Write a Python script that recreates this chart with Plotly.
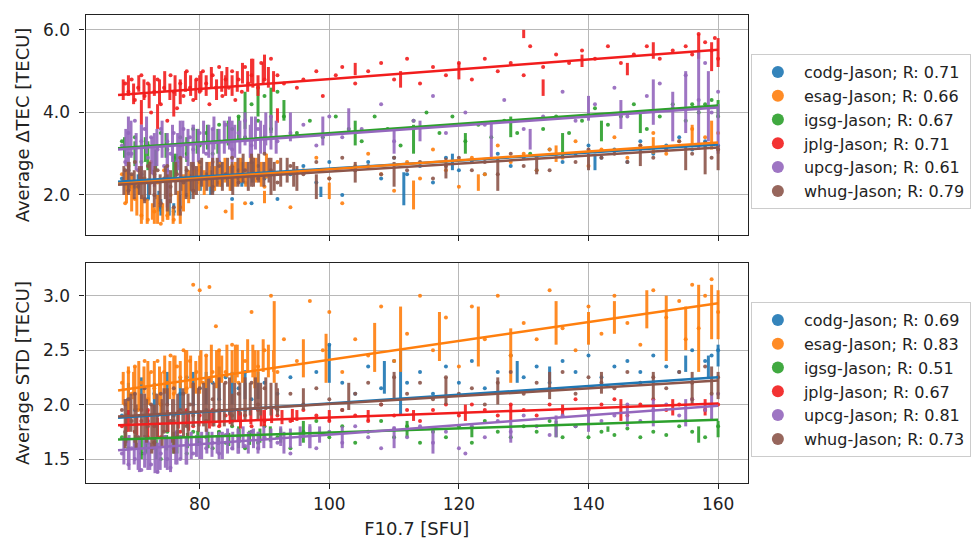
import plotly.graph_objects as go

# ---------------- data ----------------
names = ["codg", "esag", "igsg", "jplg", "upcg", "whug"]
colors = ["#1f77b4", "#ff7f0e", "#2ca02c", "#f21d1d", "#9467bd", "#8c564b"]
r_tec = ["0.71", "0.66", "0.67", "0.71", "0.61", "0.79"]
r_std = ["0.69", "0.83", "0.51", "0.67", "0.81", "0.73"]

# fit lines: value at x = 67.4 and at x = 160
fit_x = [67.4, 160]
fit_tec = {"codg": [2.32, 3.22], "esag": [2.27, 3.27], "igsg": [3.13, 4.17],
           "jplg": [4.42, 5.52], "upcg": [3.10, 4.12], "whug": [2.25, 3.15]}
fit_std = {"codg": [1.88, 2.25], "esag": [2.13, 2.93], "igsg": [1.68, 1.86],
           "jplg": [1.81, 2.01], "upcg": [1.58, 1.99], "whug": [1.89, 2.22]}

# ---- top panel: Average dTEC points (x, y) ----
codg_tec_x = [68, 69, 70, 71, 72, 73, 74, 75, 76, 77, 78, 79, 80, 81, 82, 83, 84, 85, 86, 87, 88, 89, 90, 92, 94, 96, 98, 100, 102, 104, 106, 108, 110, 112, 114, 116, 118, 120, 122, 124, 126, 128, 130, 132, 134, 136, 138, 140, 142, 144, 146, 148, 150, 152, 154, 156, 158, 160]
codg_tec_y = [2.4, 2.6, 2.2, 2.5, 1.9, 2.3, 1.7, 2.6, 1.6, 2.4, 2.0, 2.7, 2.3, 2.5, 2.1, 2.8, 2.4, 1.9, 2.6, 2.3, 1.8, 2.7, 2.4, 1.9, 2.5, 2.7, 2.3, 2.8, 2.0, 2.6, 2.8, 2.4, 2.9, 2.5, 2.7, 2.3, 2.9, 2.6, 2.8, 2.5, 3.0, 2.7, 2.9, 2.6, 3.1, 2.8, 3.0, 3.2, 2.9, 3.1, 2.8, 3.3, 3.0, 3.2, 3.4, 3.1, 3.3, 3.2]
esag_tec_x = [68, 68.5, 69, 69.5, 70, 70.5, 71, 71.5, 72, 72.5, 73, 73.5, 74, 74.5, 75, 75.5, 76, 76.5, 77, 77.5, 78, 79, 80, 81, 82, 83, 84, 85, 86, 87, 88, 89, 90, 92, 94, 96, 98, 100, 102, 104, 106, 108, 110, 112, 114, 116, 118, 120, 122, 124, 126, 128, 130, 132, 134, 136, 138, 140, 142, 144, 146, 148, 150, 152, 154, 156, 158, 160]
esag_tec_y = [2.5, 1.8, 2.7, 2.2, 1.9, 2.6, 1.5, 2.4, 1.4, 2.8, 1.6, 2.3, 1.3, 2.6, 1.5, 2.0, 1.4, 2.7, 1.7, 2.4, 2.9, 2.1, 2.6, 1.7, 2.8, 2.3, 1.6, 2.7, 2.4, 1.8, 2.9, 2.5, 2.2, 2.8, 1.7, 2.6, 2.9, 2.4, 1.8, 2.7, 3.0, 2.5, 2.1, 2.8, 2.4, 3.1, 2.6, 2.2, 2.9, 2.5, 3.2, 2.8, 3.0, 2.6, 3.1, 2.9, 3.3, 2.7, 3.1, 3.4, 2.9, 3.2, 3.5, 3.0, 3.3, 3.6, 3.4, 3.5]
igsg_tec_x = [68, 69, 70, 71, 72, 73, 74, 75, 76, 77, 78, 79, 80, 81, 82, 83, 84, 85, 86, 87, 88, 89, 90, 91, 92, 93, 95, 97, 99, 101, 103, 105, 107, 109, 111, 113, 115, 117, 119, 121, 123, 125, 127, 129, 131, 133, 135, 137, 139, 141, 143, 145, 147, 149, 151, 153, 155, 156, 157, 158, 159, 160]
igsg_tec_y = [3.3, 3.0, 3.4, 2.8, 3.2, 2.6, 3.5, 3.1, 2.9, 3.4, 3.0, 3.6, 3.2, 3.5, 3.0, 3.7, 3.3, 3.6, 3.9, 3.4, 4.2, 3.8, 4.4, 3.6, 4.5, 3.9, 3.5, 3.8, 3.4, 3.9, 3.6, 3.3, 3.9, 3.6, 3.2, 3.8, 4.0, 3.5, 3.9, 3.3, 3.7, 3.4, 3.8, 3.5, 3.0, 3.6, 3.9, 3.5, 3.8, 4.1, 3.7, 3.9, 4.2, 3.6, 3.9, 4.2, 3.8, 4.2, 4.0, 4.2, 4.3, 3.9]
jplg_tec_x = [68.5, 69, 69.5, 70, 70.5, 71, 71.5, 72, 72.5, 73, 73.5, 74, 74.5, 75, 75.5, 76, 76.5, 77, 77.5, 78, 78.5, 79, 79.5, 80, 80.5, 81, 81.5, 82, 82.5, 83, 83.5, 84, 84.5, 85, 85.5, 86, 86.5, 87, 87.5, 88, 89, 89.5, 90, 91, 92, 93, 95, 96, 98, 99, 101, 102, 104, 106, 108, 110, 112, 114, 116, 118, 120, 122, 124, 126, 128, 130, 131, 133, 135, 137, 139, 141, 143, 145, 147, 149, 151, 153, 155, 156, 157, 158, 159, 159.5, 160]
jplg_tec_y = [4.7, 4.5, 4.8, 4.3, 4.6, 4.9, 4.4, 4.7, 4.0, 4.5, 4.8, 4.2, 4.6, 3.8, 4.9, 4.5, 4.1, 4.7, 4.4, 5.0, 4.6, 4.3, 4.8, 4.5, 5.0, 4.7, 4.2, 4.9, 4.6, 5.1, 4.4, 4.8, 4.6, 5.0, 4.3, 4.8, 4.5, 5.1, 4.7, 4.9, 4.6, 5.2, 4.8, 5.3, 4.9, 4.7, 4.6, 4.8, 5.0, 4.4, 4.9, 5.1, 4.7, 5.0, 5.2, 4.8, 5.3, 4.7, 5.1, 4.9, 5.2, 4.8, 5.3, 5.0, 5.2, 4.9, 5.6, 5.1, 5.4, 5.2, 5.5, 5.3, 5.6, 5.2, 5.4, 5.6, 5.3, 5.5, 5.6, 5.4, 5.9, 5.7, 5.5, 5.8, 5.3]
upcg_tec_x = [68, 68.5, 69, 69.5, 70, 70.5, 71, 71.5, 72, 72.5, 73, 73.5, 74, 74.5, 75, 75.5, 76, 76.5, 77, 77.5, 78, 78.5, 79, 80, 81, 82, 83, 84, 85, 86, 87, 88, 89, 90, 91, 92, 94, 96, 98, 100, 102, 105, 108, 110, 113, 116, 118, 121, 124, 127, 130, 133, 136, 138, 141, 144, 146, 149, 151, 153, 155, 157, 158, 159, 160]
upcg_tec_y = [3.2, 2.8, 3.5, 3.0, 3.8, 2.6, 3.3, 3.6, 2.9, 3.4, 2.5, 3.1, 3.6, 2.7, 3.3, 3.0, 3.5, 2.8, 3.2, 3.6, 2.9, 3.4, 3.1, 3.5, 3.0, 3.6, 3.3, 3.7, 3.1, 3.5, 3.8, 3.2, 3.6, 3.4, 3.9, 3.3, 3.5, 3.7, 3.2, 3.9, 3.4, 3.6, 4.2, 3.3, 3.8, 4.4, 3.5, 4.0, 3.7, 4.3, 3.6, 3.9, 4.5, 3.8, 4.2, 4.6, 3.9, 4.4, 4.7, 4.1, 4.9, 4.3, 5.2, 4.0, 4.5]
whug_tec_x = [68, 68.5, 69, 69.5, 70, 70.5, 71, 71.5, 72, 72.5, 73, 73.5, 74, 74.5, 75, 75.5, 76, 76.5, 77, 77.5, 78, 79, 80, 81, 82, 83, 84, 85, 86, 87, 88, 89, 90, 91, 92, 94, 96, 98, 100, 102, 104, 106, 108, 110, 112, 114, 116, 118, 120, 122, 124, 126, 128, 130, 132, 134, 136, 138, 140, 142, 144, 146, 148, 150, 152, 154, 156, 158, 159, 160]
whug_tec_y = [2.3, 2.6, 2.1, 2.5, 2.8, 2.2, 2.4, 1.9, 2.7, 2.3, 2.0, 2.6, 1.8, 2.4, 2.7, 2.2, 1.7, 2.5, 2.9, 2.3, 2.6, 2.1, 2.8, 2.4, 2.2, 2.7, 2.5, 2.9, 2.3, 2.6, 2.8, 2.4, 3.0, 2.6, 2.3, 2.7, 2.5, 2.8, 2.4, 2.9, 2.6, 2.7, 2.5, 2.9, 2.6, 2.8, 2.4, 2.7, 2.9, 2.6, 2.8, 2.5, 3.0, 2.7, 2.9, 2.6, 3.0, 2.8, 3.1, 2.9, 3.0, 2.8, 3.2, 2.9, 3.1, 3.3, 3.0, 3.2, 2.9, 3.1]

# ---- top panel: vertical streaks (x, low, high) ----
codg_tec_sx = [74, 76, 98.7, 111.5, 119, 141, 68.9, 70.5, 72.1, 73.7, 75.3, 76.9, 78.5, 80.1, 81.7, 83.3, 84.9, 86.5, 88.1]
codg_tec_lo = [1.5, 1.5, 1.95, 1.75, 2.6, 2.6, 2.1, 2.0, 1.9, 1.6, 1.5, 1.6, 1.9, 2.1, 2.0, 2.2, 2.1, 2.2, 2.3]
codg_tec_hi = [1.9, 1.8, 2.2, 2.55, 3.0, 3.0, 2.6, 2.5, 2.4, 2.1, 1.9, 2.0, 2.5, 2.7, 2.6, 2.8, 2.7, 2.8, 2.8]
esag_tec_sx = [71, 73, 75, 77, 85, 90, 100, 113, 123, 135, 150, 156, 159,
               68.7, 69.5, 70.3, 71.1, 71.9, 72.7, 73.5, 74.3, 75.1, 75.9, 76.7, 77.5, 78.3, 79.1, 79.9, 80.7, 81.5, 82.3, 83.1, 83.9, 84.7, 85.5, 86.3, 87.1, 87.9, 88.7, 89.5, 90.3]
esag_tec_lo = [1.3, 1.3, 1.4, 1.3, 1.4, 1.8, 1.9, 1.65, 2.1, 2.8, 3.0, 3.2, 3.1,
               1.8, 1.6, 1.5, 1.4, 1.3, 1.4, 1.3, 1.35, 1.4, 1.3, 1.5, 1.6, 1.8, 2.0, 2.1, 2.0, 2.2, 2.1, 2.2, 2.3, 2.1, 2.2, 2.3, 2.2, 2.4, 2.3, 2.2, 2.4]
esag_tec_hi = [1.9, 1.7, 1.9, 1.6, 1.8, 2.1, 2.3, 2.35, 2.5, 3.2, 3.4, 3.7, 3.8,
               2.6, 2.5, 2.3, 2.0, 1.9, 1.8, 2.0, 1.8, 1.9, 1.7, 2.1, 2.5, 2.6, 2.7, 2.8, 2.6, 2.8, 2.7, 2.8, 2.9, 2.7, 2.8, 2.9, 2.8, 3.0, 2.9, 2.8, 3.0]
igsg_tec_sx = [72, 76, 87, 89, 91, 93, 104, 113, 121, 128, 136, 142, 148, 160,
               68.4, 70, 71.6, 73.2, 74.8, 76.4, 78, 79.6, 81.2, 82.8, 84.4, 86]
igsg_tec_lo = [2.6, 2.4, 3.6, 3.9, 3.5, 3.8, 3.2, 3.0, 3.0, 3.4, 2.9, 3.3, 3.5, 3.9,
               2.9, 2.7, 2.8, 2.6, 2.9, 2.5, 2.8, 3.0, 3.1, 3.0, 3.2, 3.3]
igsg_tec_hi = [3.3, 3.0, 4.5, 4.7, 4.6, 4.3, 3.8, 3.7, 3.5, 3.9, 3.5, 3.8, 4.0, 4.3,
               3.4, 3.3, 3.4, 3.1, 3.5, 3.0, 3.4, 3.6, 3.7, 3.6, 3.8, 3.9]
jplg_tec_sx = [71, 73.5, 76, 80, 84, 88, 90, 92, 104, 111, 120, 130, 133, 139, 146, 150, 157, 159, 160,
               68.2, 69.0, 69.8, 70.6, 71.4, 72.2, 73.0, 73.8, 74.6, 75.4, 76.2, 77.0, 77.8, 78.6, 79.4, 80.2, 81.0, 81.8, 82.6, 83.4, 84.2, 85.0, 85.8, 86.6, 87.4, 88.2, 89.0, 89.8, 90.6, 91.4]
jplg_tec_lo = [3.7, 3.6, 3.9, 4.5, 4.4, 4.7, 4.8, 3.75, 4.9, 4.6, 4.8, 5.8, 4.4, 5.1, 4.9, 5.3, 5.3, 5.0, 5.1,
               4.3, 4.4, 4.2, 4.5, 4.3, 4.1, 4.4, 4.2, 4.5, 4.3, 4.4, 4.2, 4.5, 4.4, 4.3, 4.5, 4.4, 4.6, 4.3, 4.5, 4.6, 4.4, 4.5, 4.7, 4.5, 4.6, 4.4, 4.7, 4.6, 4.5]
jplg_tec_hi = [4.3, 4.2, 4.5, 4.9, 4.9, 5.3, 5.4, 4.1, 5.2, 5.0, 5.2, 6.0, 4.8, 5.4, 5.2, 5.7, 5.9, 5.7, 5.8,
               4.8, 4.9, 4.7, 4.9, 4.8, 4.7, 4.9, 4.8, 5.0, 4.7, 4.9, 4.8, 5.0, 4.9, 4.8, 5.0, 4.9, 5.1, 4.8, 5.0, 5.1, 4.9, 5.0, 5.2, 5.0, 5.3, 4.9, 5.2, 5.1, 5.0]
upcg_tec_sx = [69, 71, 73, 75, 77, 79, 82, 85, 88, 90, 94, 99, 103, 110, 114, 125, 131, 140, 145, 150, 153, 155, 157, 158.5, 160,
               68.6, 69.4, 70.2, 71.0, 71.8, 72.6, 73.4, 74.2, 75.0, 75.8, 76.6, 77.4, 78.2, 79.0, 79.8, 80.6, 81.4, 82.2, 83.0, 83.8, 84.6, 85.4, 86.2, 87.0, 87.8, 88.6, 89.4, 90.2, 91.0, 91.8]
upcg_tec_lo = [2.5, 2.3, 2.2, 1.7, 2.4, 2.6, 2.7, 2.8, 2.9, 3.0, 3.3, 3.2, 3.5, 3.0, 3.3, 2.9, 3.1, 3.8, 3.6, 3.7, 3.3, 3.5, 3.1, 3.3, 3.0,
               2.7, 2.9, 2.6, 2.8, 3.0, 2.5, 2.7, 2.9, 2.4, 2.8, 2.6, 2.9, 2.7, 3.0, 2.8, 3.0, 2.9, 3.1, 2.8, 3.0, 3.1, 2.9, 3.0, 3.2, 2.9, 3.1, 3.0, 3.2, 3.1, 3.0]
upcg_tec_hi = [3.9, 3.7, 3.5, 3.2, 3.8, 3.7, 3.6, 3.8, 3.9, 3.7, 4.0, 3.9, 4.1, 3.6, 3.8, 3.8, 3.6, 4.4, 4.3, 4.8, 4.5, 5.0, 5.5, 5.0, 4.2,
               3.6, 3.8, 3.5, 3.7, 3.9, 3.4, 3.6, 3.8, 3.5, 3.7, 3.5, 3.8, 3.6, 3.7, 3.6, 3.8, 3.7, 3.9, 3.6, 3.8, 3.9, 3.7, 3.8, 4.0, 3.7, 3.9, 3.8, 4.0, 3.9, 3.8]
whug_tec_sx = [69, 71, 73, 75, 77, 79, 82, 85, 88, 91, 95, 98, 104, 110, 118, 126, 132, 140, 148, 155, 158, 160,
               68.3, 69.1, 69.9, 70.7, 71.5, 72.3, 73.1, 73.9, 74.7, 75.5, 76.3, 77.1, 77.9, 78.7, 79.5, 80.3, 81.1, 81.9, 82.7, 83.5, 84.3, 85.1, 85.9, 86.7, 87.5, 88.3, 89.1, 89.9, 90.7, 91.5, 92.5, 93.5, 94.5]
whug_tec_lo = [2.0, 1.9, 1.7, 1.6, 1.5, 1.9, 2.0, 2.1, 2.2, 2.0, 2.1, 1.9, 2.3, 2.2, 2.4, 2.1, 2.5, 2.6, 2.7, 2.6, 2.5, 2.6,
               2.0, 2.1, 1.9, 2.0, 1.8, 2.0, 1.9, 1.7, 1.9, 1.8, 2.0, 2.1, 1.9, 2.1, 2.0, 2.2, 2.1, 2.0, 2.2, 2.1, 2.2, 2.0, 2.2, 2.3, 2.1, 2.2, 2.3, 2.2, 2.3, 2.1, 2.2, 2.3, 2.2]
whug_tec_hi = [2.8, 2.7, 2.6, 2.5, 2.4, 2.8, 2.9, 2.8, 3.0, 2.9, 2.7, 2.5, 2.8, 2.8, 2.9, 2.9, 2.9, 3.0, 3.1, 3.2, 3.3, 3.2,
               2.7, 2.8, 2.6, 2.7, 2.6, 2.8, 2.7, 2.5, 2.7, 2.6, 2.8, 2.9, 2.7, 2.8, 2.7, 2.9, 2.8, 2.7, 2.9, 2.8, 2.9, 2.7, 2.9, 3.0, 2.8, 2.9, 3.0, 2.8, 2.9, 2.8, 2.9, 2.9, 2.8]

# ---- bottom panel: Average STD points ----
codg_std_x = [68, 69, 70, 71, 72, 73, 74, 75, 76, 77, 78, 79, 80, 81, 82, 83, 84, 85, 86, 87, 88, 90, 92, 94, 96, 98, 100, 102, 104, 106, 108, 110, 112, 114, 116, 118, 120, 122, 124, 126, 128, 130, 132, 134, 136, 138, 140, 142, 144, 146, 148, 150, 152, 154, 156, 158, 159, 160]
codg_std_y = [1.9, 2.05, 1.95, 2.15, 1.85, 2.1, 2.0, 2.2, 1.9, 2.1, 2.25, 2.0, 2.15, 1.95, 2.2, 2.05, 2.25, 1.95, 2.15, 2.3, 2.05, 2.2, 2.1, 2.25, 2.0, 2.3, 2.55, 2.2, 2.1, 2.35, 2.15, 2.4, 2.2, 2.3, 2.1, 2.35, 2.2, 2.4, 2.15, 2.3, 2.45, 2.25, 2.35, 2.2, 2.4, 2.3, 2.45, 2.25, 2.35, 2.4, 2.3, 2.45, 2.35, 2.3, 2.5, 2.4, 2.45, 2.5]
esag_std_x = [68, 68.5, 69, 69.5, 70, 70.5, 71, 71.5, 72, 72.5, 73, 73.5, 74, 74.5, 75, 75.5, 76, 76.5, 77, 77.5, 78, 78.5, 79, 79.5, 80, 80.5, 81, 81.5, 82, 82.5, 83, 84, 85, 86, 87, 88, 89, 90, 91, 92, 93, 95, 97, 99, 100, 102, 104, 106, 108, 110, 112, 114, 116, 118, 120, 122, 124, 126, 128, 130, 132, 134, 136, 138, 140, 142, 144, 146, 148, 150, 152, 154, 155, 156, 157, 158, 159, 160]
esag_std_y = [2.2, 2.0, 2.3, 2.1, 2.35, 1.95, 2.2, 2.4, 2.05, 2.3, 2.15, 2.4, 2.0, 2.3, 2.2, 2.45, 2.1, 2.35, 2.25, 2.5, 2.15, 2.4, 3.1, 2.3, 3.05, 2.2, 2.45, 3.08, 2.3, 2.72, 2.5, 2.3, 2.55, 2.2, 2.4, 2.85, 2.35, 2.5, 3.0, 2.3, 2.6, 2.4, 2.95, 2.5, 2.85, 2.3, 2.6, 2.45, 2.9, 2.4, 2.65, 3.0, 2.5, 2.8, 2.35, 2.9, 2.6, 3.0, 2.45, 2.75, 2.6, 3.05, 2.7, 2.5, 2.9, 2.65, 3.0, 2.75, 2.55, 3.05, 2.8, 2.95, 2.6, 3.1, 2.7, 3.0, 3.15, 2.85]
igsg_std_x = [68, 69, 70, 71, 72, 73, 74, 75, 76, 77, 78, 79, 80, 81, 82, 83, 84, 85, 86, 87, 88, 89, 90, 92, 94, 96, 98, 100, 102, 104, 106, 108, 110, 112, 114, 116, 118, 120, 122, 124, 126, 128, 130, 132, 134, 136, 138, 140, 142, 144, 146, 148, 150, 152, 154, 156, 158, 160]
igsg_std_y = [1.7, 1.6, 1.75, 1.55, 1.7, 1.65, 1.5, 1.75, 1.6, 1.7, 1.55, 1.75, 1.65, 1.7, 1.6, 1.75, 1.65, 1.8, 1.7, 1.6, 1.75, 1.65, 1.8, 1.7, 1.6, 1.75, 1.85, 1.7, 1.8, 1.65, 1.75, 1.85, 1.7, 1.8, 1.65, 1.75, 1.7, 1.8, 1.65, 1.85, 1.75, 1.7, 1.8, 1.75, 1.85, 1.7, 1.8, 1.7, 1.75, 1.72, 1.78, 1.7, 1.75, 1.72, 1.8, 1.75, 1.7, 1.8]
jplg_std_x = [68, 69, 70, 71, 72, 73, 74, 75, 76, 77, 78, 79, 80, 81, 82, 83, 84, 85, 86, 87, 88, 89, 90, 92, 94, 96, 98, 100, 102, 104, 106, 108, 110, 112, 114, 116, 118, 120, 122, 124, 126, 128, 130, 132, 134, 136, 138, 140, 142, 144, 146, 148, 150, 152, 154, 156, 158, 160]
jplg_std_y = [1.8, 1.9, 1.75, 1.85, 1.95, 1.8, 1.7, 1.9, 1.85, 1.75, 1.95, 1.8, 1.9, 1.85, 1.95, 1.8, 1.9, 1.85, 1.95, 1.9, 1.8, 1.95, 1.85, 1.9, 1.85, 1.95, 1.9, 1.85, 1.95, 1.9, 1.85, 2.0, 1.9, 1.95, 1.85, 1.95, 2.0, 1.9, 2.0, 1.95, 1.9, 2.0, 1.95, 1.9, 2.0, 1.95, 2.05, 1.95, 2.0, 2.05, 1.9, 2.0, 2.05, 1.95, 2.0, 2.05, 1.95, 2.0]
upcg_std_x = [68, 68.5, 69, 69.5, 70, 70.5, 71, 71.5, 72, 72.5, 73, 73.5, 74, 74.5, 75, 75.5, 76, 76.5, 77, 78, 79, 80, 81, 82, 83, 84, 85, 86, 87, 88, 89, 90, 92, 94, 96, 98, 100, 102, 104, 106, 108, 110, 112, 114, 116, 118, 120, 121, 122, 124, 126, 128, 130, 132, 134, 136, 138, 140, 142, 144, 146, 148, 150, 152, 154, 156, 158, 160]
upcg_std_y = [1.55, 1.65, 1.45, 1.6, 1.5, 1.7, 1.4, 1.55, 1.65, 1.45, 1.6, 1.38, 1.55, 1.7, 1.5, 1.42, 1.6, 1.75, 1.5, 1.65, 1.55, 1.7, 1.6, 1.65, 1.55, 1.72, 1.6, 1.68, 1.62, 1.75, 1.6, 1.7, 1.65, 1.55, 1.72, 1.6, 1.75, 1.65, 1.8, 1.7, 1.6, 1.78, 1.7, 1.8, 1.65, 1.75, 1.6, 1.55, 1.8, 1.7, 1.85, 1.75, 1.9, 1.8, 1.72, 1.9, 1.8, 1.95, 1.85, 1.9, 2.0, 1.85, 1.95, 2.0, 1.9, 2.05, 1.95, 2.1]
whug_std_x = [68, 68.5, 69, 69.5, 70, 70.5, 71, 71.5, 72, 72.5, 73, 73.5, 74, 74.5, 75, 75.5, 76, 76.5, 77, 77.5, 78, 78.5, 79, 80, 81, 82, 83, 84, 85, 86, 87, 88, 89, 90, 92, 94, 96, 98, 100, 102, 104, 106, 108, 110, 112, 114, 116, 118, 120, 122, 124, 126, 128, 130, 132, 134, 136, 138, 140, 142, 144, 146, 148, 150, 152, 154, 156, 158, 159, 160]
whug_std_y = [1.95, 1.75, 2.05, 1.85, 2.1, 1.7, 1.95, 2.15, 1.8, 2.0, 1.65, 1.9, 2.1, 1.75, 2.0, 1.85, 2.15, 1.7, 1.95, 2.1, 1.8, 2.0, 1.9, 2.15, 1.85, 2.05, 1.95, 2.2, 1.9, 2.1, 1.95, 2.2, 2.0, 2.15, 1.95, 2.1, 2.0, 2.15, 2.05, 1.95, 2.1, 2.2, 2.0, 2.25, 2.1, 2.2, 2.05, 2.25, 2.1, 2.15, 2.0, 2.2, 2.3, 2.1, 2.2, 2.15, 2.3, 2.1, 2.25, 2.2, 2.15, 2.3, 2.2, 2.25, 2.15, 2.3, 2.2, 2.35, 2.1, 2.25]

# ---- bottom panel: vertical streaks ----
codg_std_sx = [100, 108.5, 111, 129, 134, 155, 158.5, 160, 69, 71, 73, 75, 77, 79, 81, 83, 85, 87, 89]
codg_std_lo = [2.2, 2.1, 1.9, 2.2, 2.2, 2.3, 2.25, 2.35, 1.9, 1.95, 1.9, 2.0, 1.95, 2.0, 2.0, 2.05, 2.0, 2.05, 2.05]
codg_std_hi = [2.55, 2.4, 2.5, 2.4, 2.35, 2.45, 2.45, 2.55, 2.2, 2.25, 2.2, 2.3, 2.25, 2.3, 2.3, 2.35, 2.3, 2.3, 2.3]
esag_std_sx = [70, 72, 74, 76, 78, 80, 83, 85.5, 88.5, 91.5, 96, 99.5, 107, 111, 117, 123, 128, 135, 140, 144, 149, 152, 155, 157, 159, 160,
               68.2, 69.0, 69.8, 70.6, 71.4, 72.2, 73.0, 73.8, 74.6, 75.4, 76.2, 77.0, 77.8, 78.6, 79.4, 80.2, 81.0, 81.8, 82.6, 83.4, 84.2, 85.0, 85.8, 86.6, 87.4, 88.2, 89.0, 89.8, 90.6, 91.4]
esag_std_lo = [1.95, 2.0, 1.9, 2.05, 2.1, 2.1, 2.2, 2.2, 2.15, 2.2, 2.25, 2.2, 2.3, 2.3, 2.4, 2.35, 2.2, 2.55, 2.55, 2.65, 2.7, 2.4, 2.5, 2.3, 2.6, 2.6,
               2.0, 1.95, 2.05, 1.95, 2.1, 2.0, 2.05, 2.0, 2.1, 2.05, 2.1, 2.15, 2.1, 2.15, 2.1, 2.2, 2.15, 2.2, 2.15, 2.2, 2.25, 2.2, 2.25, 2.2, 2.3, 2.25, 2.2, 2.3, 2.25, 2.3]
esag_std_hi = [2.35, 2.4, 2.3, 2.45, 2.5, 2.45, 2.5, 2.55, 2.5, 2.95, 2.6, 2.65, 2.75, 2.9, 2.85, 2.9, 2.7, 2.95, 2.85, 2.95, 3.05, 3.0, 2.9, 3.1, 3.1, 3.05,
               2.3, 2.35, 2.3, 2.4, 2.35, 2.3, 2.4, 2.35, 2.45, 2.4, 2.45, 2.4, 2.5, 2.45, 2.4, 2.5, 2.45, 2.55, 2.5, 2.45, 2.55, 2.5, 2.55, 2.5, 2.6, 2.55, 2.5, 2.6, 2.55, 2.5]
igsg_std_sx = [71, 76, 86, 96, 112, 122, 135, 143, 157, 160,
               68.5, 70.1, 71.7, 73.3, 74.9, 76.5, 78.1, 79.7, 81.3, 82.9, 84.5, 86.1, 87.7, 89.3, 90.9, 92.5]
igsg_std_lo = [1.5, 1.55, 1.6, 1.65, 1.7, 1.7, 1.7, 1.75, 1.65, 1.7,
               1.62, 1.6, 1.55, 1.5, 1.58, 1.55, 1.6, 1.62, 1.6, 1.63, 1.62, 1.65, 1.63, 1.65, 1.66, 1.65]
igsg_std_hi = [1.7, 1.75, 1.8, 1.85, 1.85, 1.8, 1.85, 1.8, 1.8, 1.85,
               1.75, 1.72, 1.7, 1.68, 1.72, 1.7, 1.74, 1.76, 1.75, 1.76, 1.74, 1.78, 1.76, 1.78, 1.8, 1.78]
jplg_std_sx = [69, 72, 75, 78, 82, 86, 90, 95, 100, 106, 113, 121, 128, 136, 145, 153, 158,
               68.7, 70.3, 71.9, 73.5, 75.1, 76.7, 78.3, 79.9, 81.5, 83.1, 84.7, 86.3, 87.9, 89.5, 91.1, 92.7, 94.3]
jplg_std_lo = [1.75, 1.7, 1.75, 1.8, 1.8, 1.85, 1.8, 1.85, 1.85, 1.85, 1.85, 1.85, 1.85, 1.9, 1.85, 1.9, 1.9,
               1.75, 1.72, 1.78, 1.7, 1.75, 1.78, 1.76, 1.8, 1.78, 1.8, 1.82, 1.78, 1.82, 1.8, 1.83, 1.82, 1.84]
jplg_std_hi = [1.95, 1.95, 1.95, 1.95, 1.95, 1.95, 1.95, 1.95, 1.95, 1.95, 1.95, 2.0, 2.0, 2.0, 2.05, 2.05, 2.05,
               1.92, 1.9, 1.95, 1.88, 1.92, 1.95, 1.93, 1.95, 1.94, 1.96, 1.95, 1.93, 1.96, 1.95, 1.97, 1.95, 1.96]
upcg_std_sx = [69, 70.5, 72, 73.5, 75, 76.5, 78, 80, 83, 86, 89, 93, 97, 102, 110, 116, 128, 135, 140, 146, 150, 155, 159,
               68.3, 69.1, 69.9, 70.7, 71.5, 72.3, 73.1, 73.9, 74.7, 75.5, 76.3, 77.1, 77.9, 78.7, 79.5, 80.3, 81.1, 81.9, 82.7, 83.5, 84.3, 85.1, 85.9, 86.7, 87.5, 88.3, 89.1, 89.9, 91, 92.5, 94, 95.5, 97, 98.5]
upcg_std_lo = [1.45, 1.4, 1.4, 1.37, 1.4, 1.45, 1.45, 1.5, 1.5, 1.55, 1.55, 1.55, 1.6, 1.6, 1.6, 1.55, 1.65, 1.7, 1.75, 1.8, 1.8, 1.8, 1.85,
               1.45, 1.4, 1.45, 1.38, 1.42, 1.4, 1.37, 1.4, 1.42, 1.38, 1.45, 1.5, 1.45, 1.5, 1.52, 1.5, 1.55, 1.52, 1.55, 1.5, 1.55, 1.58, 1.55, 1.6, 1.55, 1.6, 1.58, 1.6, 1.6, 1.62, 1.6, 1.62, 1.6, 1.65]
upcg_std_hi = [1.7, 1.65, 1.7, 1.65, 1.7, 1.75, 1.7, 1.7, 1.75, 1.75, 1.75, 1.75, 1.8, 1.8, 1.8, 1.8, 1.85, 1.9, 1.95, 2.0, 2.05, 2.05, 2.1,
               1.7, 1.72, 1.68, 1.7, 1.72, 1.65, 1.7, 1.68, 1.72, 1.7, 1.75, 1.72, 1.7, 1.75, 1.72, 1.75, 1.78, 1.75, 1.72, 1.75, 1.78, 1.75, 1.78, 1.8, 1.75, 1.78, 1.75, 1.8, 1.78, 1.8, 1.78, 1.8, 1.82, 1.8]
whug_std_sx = [68.5, 70, 71.5, 73, 74.5, 76, 77.5, 79, 81, 83, 85, 87, 89, 92, 96, 103, 110, 118, 126, 134, 142, 150, 156, 159, 160,
               68.6, 69.4, 70.2, 71.0, 71.8, 72.6, 73.4, 74.2, 75.0, 75.8, 76.6, 77.4, 78.2, 79.0, 79.8, 80.6, 81.4, 82.2, 83.0, 83.8, 84.6, 85.4, 86.2, 87.0, 87.8, 88.6, 89.4, 90.2, 91.0, 91.8]
whug_std_lo = [1.6, 1.65, 1.7, 1.6, 1.75, 1.55, 1.7, 1.8, 1.75, 1.85, 1.8, 1.9, 1.85, 1.9, 1.95, 1.95, 2.05, 2.0, 2.0, 2.05, 2.1, 2.05, 2.0, 2.1, 2.05,
               1.65, 1.75, 1.6, 1.7, 1.65, 1.55, 1.7, 1.6, 1.75, 1.65, 1.7, 1.75, 1.7, 1.8, 1.75, 1.8, 1.85, 1.8, 1.85, 1.8, 1.9, 1.85, 1.9, 1.85, 1.9, 1.95, 1.9, 1.95, 1.9, 1.95]
whug_std_hi = [2.05, 2.1, 2.1, 2.0, 2.15, 2.05, 2.1, 2.2, 2.15, 2.25, 2.1, 2.2, 2.2, 2.15, 2.15, 2.2, 2.3, 2.25, 2.25, 2.3, 2.3, 2.3, 2.3, 2.35, 2.3,
               2.05, 2.1, 2.0, 2.1, 2.05, 2.0, 2.1, 2.05, 2.15, 2.05, 2.1, 2.15, 2.1, 2.2, 2.15, 2.2, 2.25, 2.2, 2.15, 2.2, 2.25, 2.2, 2.2, 2.25, 2.2, 2.25, 2.2, 2.25, 2.2, 2.2]

x_ticks = [80, 100, 120, 140, 160]
tec_ticks = [2.0, 4.0, 6.0]
std_ticks = [1.5, 2.0, 2.5, 3.0]

points = {
    "tec": {"codg": (codg_tec_x, codg_tec_y), "esag": (esag_tec_x, esag_tec_y),
            "igsg": (igsg_tec_x, igsg_tec_y), "jplg": (jplg_tec_x, jplg_tec_y),
            "upcg": (upcg_tec_x, upcg_tec_y), "whug": (whug_tec_x, whug_tec_y)},
    "std": {"codg": (codg_std_x, codg_std_y), "esag": (esag_std_x, esag_std_y),
            "igsg": (igsg_std_x, igsg_std_y), "jplg": (jplg_std_x, jplg_std_y),
            "upcg": (upcg_std_x, upcg_std_y), "whug": (whug_std_x, whug_std_y)},
}
streaks = {
    "tec": {"codg": (codg_tec_sx, codg_tec_lo, codg_tec_hi), "esag": (esag_tec_sx, esag_tec_lo, esag_tec_hi),
            "igsg": (igsg_tec_sx, igsg_tec_lo, igsg_tec_hi), "jplg": (jplg_tec_sx, jplg_tec_lo, jplg_tec_hi),
            "upcg": (upcg_tec_sx, upcg_tec_lo, upcg_tec_hi), "whug": (whug_tec_sx, whug_tec_lo, whug_tec_hi)},
    "std": {"codg": (codg_std_sx, codg_std_lo, codg_std_hi), "esag": (esag_std_sx, esag_std_lo, esag_std_hi),
            "igsg": (igsg_std_sx, igsg_std_lo, igsg_std_hi), "jplg": (jplg_std_sx, jplg_std_lo, jplg_std_hi),
            "upcg": (upcg_std_sx, upcg_std_lo, upcg_std_hi), "whug": (whug_std_sx, whug_std_lo, whug_std_hi)},
}
fits = {"tec": fit_tec, "std": fit_std}
rvals = {"tec": r_tec, "std": r_std}

# ---------------- figure ----------------
FONT = "DejaVu Sans"
TXT = "#222222"
fig = go.Figure()
panel_axes = {"tec": ("x", "y", "legend"), "std": ("x2", "y2", "legend2")}

for panel in ["tec", "std"]:
    xa, ya, lg = panel_axes[panel]
    for i, n in enumerate(names):
        c = colors[i]
        sx, lo, hi = streaks[panel][n]
        lx, ly = [], []
        for a, b, h in zip(sx, lo, hi):
            lx += [a, a, None]
            ly += [b, h, None]
        fig.add_trace(go.Scatter(x=lx, y=ly, mode="lines", xaxis=xa, yaxis=ya,
                                 line=dict(color=c, width=3), opacity=0.9,
                                 showlegend=False, hoverinfo="skip", legend=lg))
        px, py = points[panel][n]
        fig.add_trace(go.Scatter(x=px, y=py, mode="markers", xaxis=xa, yaxis=ya,
                                 marker=dict(color=c, size=4, line=dict(width=0)),
                                 opacity=0.9, legend=lg,
                                 name=f"{n}-Jason; R: {rvals[panel][i]}"))
    for i, n in enumerate(names):
        fig.add_trace(go.Scatter(x=fit_x, y=fits[panel][n], mode="lines", xaxis=xa, yaxis=ya,
                                 line=dict(color=colors[i], width=2.5),
                                 showlegend=False, hoverinfo="skip", legend=lg))

axis_common = dict(showline=True, mirror=True, linecolor=TXT, linewidth=1.3,
                   ticks="outside", ticklen=5, tickwidth=1.2, tickcolor=TXT,
                   showgrid=True, gridcolor="#b8b8b8", gridwidth=1.2, zeroline=False,
                   tickfont=dict(family=FONT, size=17, color=TXT))

xdom = [86 / 971, 751 / 971]
title_font = dict(family=FONT, size=18, color=TXT)
legend_common = dict(xanchor="left", yanchor="top",
                     bgcolor="rgba(255,255,255,0.85)", bordercolor="#cccccc", borderwidth=1,
                     font=dict(family=FONT, size=16, color=TXT), itemsizing="constant",
                     itemwidth=42, tracegroupgap=0)
fig.update_layout(
    width=971, height=541,
    margin=dict(l=0, r=0, t=0, b=0),
    paper_bgcolor="white", plot_bgcolor="white",
    font=dict(family=FONT, size=16, color=TXT),
    xaxis=dict(domain=xdom, range=[62.4, 164.6], tickvals=x_ticks, showticklabels=False,
               anchor="y", matches="x2", **axis_common),
    yaxis=dict(domain=[1 - 235 / 541, 1 - 15 / 541], range=[1.03, 6.36], tickvals=tec_ticks,
               tickformat=".1f", anchor="x", ticklabelstandoff=6,
               title=dict(text="Average ΔTEC [TECU]", standoff=8, font=title_font),
               **axis_common),
    xaxis2=dict(domain=xdom, range=[62.4, 164.6], tickvals=x_ticks, anchor="y2",
                ticklabelstandoff=0,
                title=dict(text="F10.7 [SFU]", standoff=9, font=title_font),
                **axis_common),
    yaxis2=dict(domain=[1 - 483 / 541, 1 - 263 / 541], range=[1.28, 3.30], tickvals=std_ticks,
                tickformat=".1f", anchor="x2", ticklabelstandoff=6,
                title=dict(text="Average STD [TECU]", standoff=8, font=title_font),
                **axis_common),
    legend=dict(x=754 / 971, y=1 - 54 / 541, **legend_common),
    legend2=dict(x=754 / 971, y=1 - 302 / 541, **legend_common),
)

fig.write_html("out.html", config={"displayModeBar": False},
               post_script="document.body.style.margin='0px';")
